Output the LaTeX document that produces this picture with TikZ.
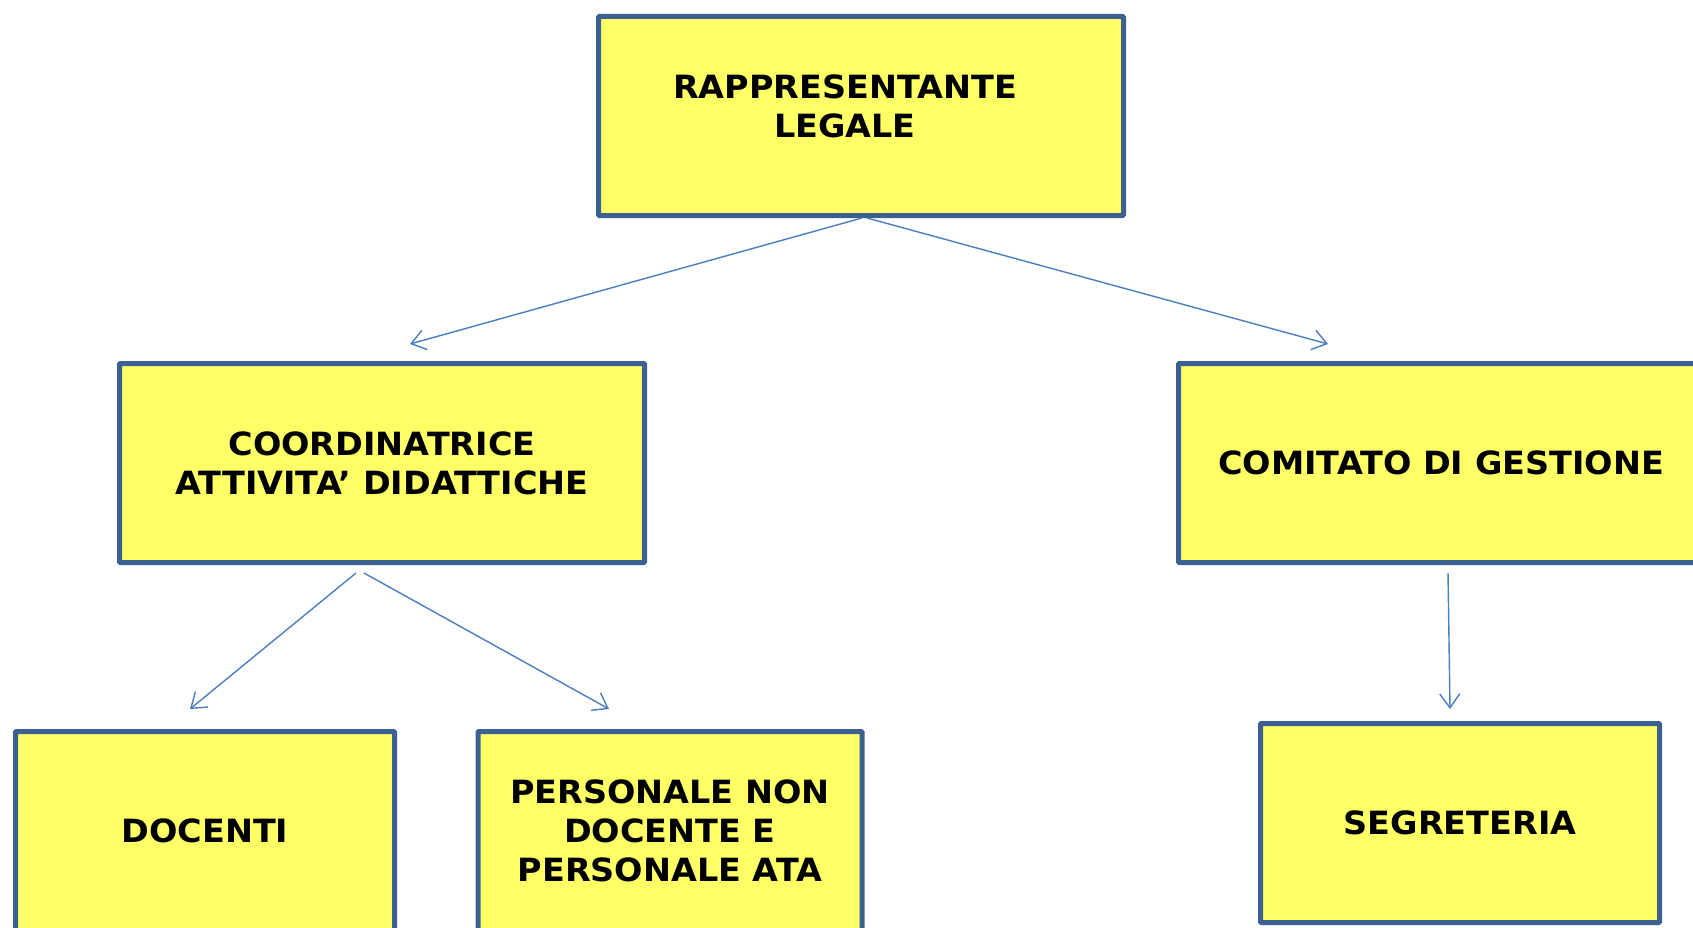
\documentclass[tikz,border=0pt]{standalone}
\usepackage{fontspec}
\setmainfont{DejaVu Sans}[FakeStretch=1.045]
\usetikzlibrary{arrows.meta}
\definecolor{boxfill}{HTML}{FFFF66}
\definecolor{boxline}{HTML}{3C6091}
\definecolor{arrowc}{HTML}{4A7EC0}
\begin{document}
\begin{tikzpicture}[x=1pt,y=-1pt,
  orgbox/.style={draw=boxline, line width=5pt, fill=boxfill, rounded corners=1pt,
    inner sep=0pt, align=center, font=\bfseries\fontsize{32}{39}\selectfont},
  boxtext/.style={inner sep=0pt, align=center, font=\bfseries\fontsize{32}{39}\selectfont},
  conn/.style={draw=arrowc, line width=1.4pt, -{Straight Barb[length=14pt,width=20pt]}}]
\useasboundingbox (0,0) rectangle (1693,928);
% boxes
\node[orgbox, minimum width=525pt, minimum height=199pt] (rl) at (861,116) {};
\node[boxtext] (rltxt) at (845,106) {RAPPRESENTANTE\\LEGALE};
\node[orgbox, minimum width=525pt, minimum height=199pt] (cad) at (382,463) {COORDINATRICE\\ATTIVITA’ DIDATTICHE};
\node[orgbox, minimum width=525pt, minimum height=199pt] (cdg) at (1441,463) {COMITATO DI GESTIONE};
\node[orgbox, minimum width=379pt, minimum height=199pt] (doc) at (205,831) {DOCENTI};
\node[orgbox, minimum width=384pt, minimum height=199pt] (pers) at (670,831) {PERSONALE NON\\DOCENTE E\\PERSONALE ATA};
\node[orgbox, minimum width=399pt, minimum height=199pt] (seg) at (1460,823) {SEGRETERIA};
% arrow end points
\coordinate (e1) at (410,344);
\coordinate (e2) at (1328,344);
\coordinate (e3) at (190,709);
\coordinate (e4) at (609,709);
\coordinate (e5) at (1450,709);
% connectors
\draw[conn] ([xshift=1pt]rl.south) -- (e1);
\draw[conn] ([xshift=6pt]rl.south) -- (e2);
\draw[conn] ([xshift=-26pt,yshift=-8pt]cad.south) -- (e3);
\draw[conn] ([xshift=-18pt,yshift=-8pt]cad.south) -- (e4);
\draw[conn] ([xshift=7pt,yshift=-8pt]cdg.south) -- (e5);
\end{tikzpicture}
\end{document}
